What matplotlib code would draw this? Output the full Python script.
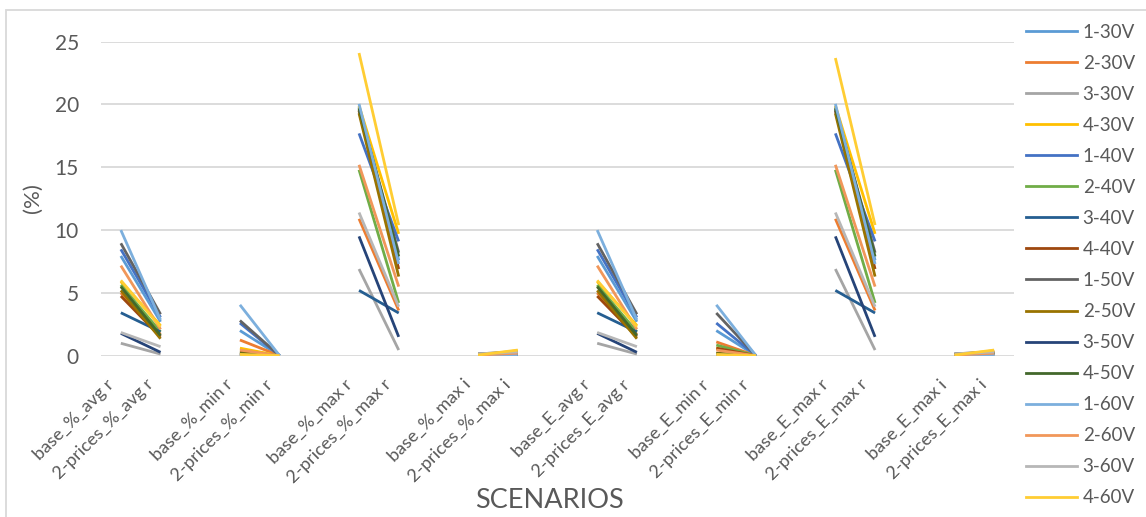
import numpy as np
import matplotlib
matplotlib.use("Agg")
import matplotlib.pyplot as plt
from matplotlib.lines import Line2D
from matplotlib.patches import Rectangle
from matplotlib.transforms import ScaledTranslation

# Scenario names (pairs: base vs 2-prices)
scenarios = [
    "base_%_avg r", "2-prices_%_avg r",
    "base_%_min r", "2-prices_%_min r",
    "base_%_max r", "2-prices_%_max r",
    "base_%_max i", "2-prices_%_max i",
    "base_E_avg r", "2-prices_E_avg r",
    "base_E_min r", "2-prices_E_min r",
    "base_E_max r", "2-prices_E_max r",
    "base_E_max i", "2-prices_E_max i",
]

series_names = ["1-30V", "2-30V", "3-30V", "4-30V",
                "1-40V", "2-40V", "3-40V", "4-40V",
                "1-50V", "2-50V", "3-50V", "4-50V",
                "1-60V", "2-60V", "3-60V", "4-60V"]

# values in scenario order (%)
v_1_30 = [7.94, 2.70, 2.00, 0.0, 19.8, 7.6, 0.10, 0.20, 7.94, 2.70, 2.00, 0.0, 19.8, 7.6, 0.10, 0.20]
v_2_30 = [5.00, 1.70, 1.25, 0.0, 10.9, 3.6, 0.10, 0.25, 5.00, 1.70, 1.10, 0.0, 10.9, 3.6, 0.10, 0.25]
v_3_30 = [0.99, 0.13, 0.05, 0.0, 6.9, 0.45, 0.15, 0.25, 0.99, 0.13, 0.05, 0.0, 6.9, 0.45, 0.15, 0.25]
v_4_30 = [5.90, 2.40, 0.60, 0.0, 19.9, 9.7, 0.05, 0.40, 5.90, 2.40, 0.60, 0.0, 19.9, 9.7, 0.05, 0.40]
v_1_40 = [8.47, 3.05, 2.60, 0.0, 17.7, 9.1, 0.05, 0.10, 8.47, 3.05, 2.60, 0.0, 17.7, 9.1, 0.05, 0.10]
v_2_40 = [5.63, 1.90, 0.35, 0.0, 14.8, 4.2, 0.05, 0.15, 5.63, 1.90, 0.85, 0.0, 14.8, 4.2, 0.05, 0.15]
v_3_40 = [3.42, 1.90, 0.15, 0.0, 5.2, 3.4, 0.05, 0.15, 3.42, 1.90, 0.15, 0.0, 5.2, 3.4, 0.05, 0.15]
v_4_40 = [4.75, 1.50, 0.25, 0.0, 19.5, 6.9, 0.10, 0.30, 4.75, 1.50, 0.60, 0.0, 19.5, 6.9, 0.10, 0.30]
v_1_50 = [8.95, 3.30, 2.80, 0.0, 19.6, 8.2, 0.15, 0.30, 8.95, 3.30, 3.40, 0.0, 19.6, 8.2, 0.15, 0.30]
v_2_50 = [5.20, 1.35, 0.20, 0.0, 19.3, 6.3, 0.10, 0.30, 5.20, 1.35, 0.20, 0.0, 19.3, 6.3, 0.10, 0.30]
v_3_50 = [1.78, 0.27, 0.05, 0.0, 9.5, 1.5, 0.05, 0.10, 1.78, 0.27, 0.05, 0.0, 9.5, 1.5, 0.05, 0.10]
v_4_50 = [5.50, 1.60, 0.15, 0.0, 19.7, 7.9, 0.05, 0.20, 5.50, 1.60, 0.15, 0.0, 19.7, 7.9, 0.05, 0.20]
v_1_60 = [10.0, 2.85, 4.05, 0.0, 20.05, 7.3, 0.02, 0.05, 10.0, 2.85, 4.05, 0.0, 20.05, 7.3, 0.02, 0.05]
v_2_60 = [7.17, 2.10, 0.45, 0.0, 15.2, 5.5, 0.05, 0.20, 7.17, 2.10, 0.45, 0.0, 15.2, 5.5, 0.05, 0.20]
v_3_60 = [1.85, 0.72, 0.05, 0.0, 11.4, 3.9, 0.15, 0.30, 1.85, 0.72, 0.05, 0.0, 11.4, 3.9, 0.15, 0.30]
v_4_60 = [6.00, 2.30, 0.10, 0.0, 24.1, 10.4, 0.05, 0.45, 6.00, 2.30, 0.10, 0.0, 23.7, 10.4, 0.05, 0.45]

all_values = [v_1_30, v_2_30, v_3_30, v_4_30, v_1_40, v_2_40, v_3_40, v_4_40,
              v_1_50, v_2_50, v_3_50, v_4_50, v_1_60, v_2_60, v_3_60, v_4_60]

colors = ["#5B9BD5", "#ED7D31", "#A5A5A5", "#FFC000",
          "#4472C4", "#70AD47", "#255E91", "#9E480E",
          "#636363", "#997300", "#264478", "#43682B",
          "#7CAFDD", "#F1975A", "#B7B7B7", "#FFCD33"]

TXT = "#595959"
GRID = "#D9D9D9"
plt.rcParams["font.family"] = ["Lato", "DejaVu Sans"]

fig = plt.figure(figsize=(11.46, 5.17), dpi=100)
W, H = 1146, 517
ax = fig.add_axes([101 / W, (H - 355.7) / H, (1014 - 101) / W, (355.7 - 41.7) / H])

# category axis: each pair followed by an empty slot
n_pairs = len(scenarios) // 2
labels = []
for p in range(n_pairs):
    labels += [scenarios[2 * p], scenarios[2 * p + 1]]
    if p < n_pairs - 1:
        labels.append("")
n_slots = len(labels)

handles = []
for vals, col, name in zip(all_values, colors, series_names):
    for p in range(n_pairs):
        x0 = 3 * p
        ax.plot([x0, x0 + 1], [vals[2 * p], vals[2 * p + 1]], color=col,
                lw=2.0, solid_capstyle="butt", zorder=3)
    handles.append(Line2D([], [], color=col, lw=2.0, label=name))

ax.set_xlim(-0.5, n_slots - 0.5)
ax.set_ylim(0, 25)
ax.set_yticks([0, 5, 10, 15, 20, 25])
ax.yaxis.grid(True, color=GRID, lw=1.3)
ax.set_axisbelow(True)
for s in ax.spines.values():
    s.set_visible(False)
ax.tick_params(axis="both", length=0, colors=TXT)
ax.tick_params(axis="y", pad=16, labelsize=15)
ax.set_xticks(range(n_slots))
ax.set_xticklabels(labels, rotation=45, ha="right", va="center",
                   rotation_mode="anchor", fontsize=13, color=TXT)
ax.tick_params(axis="x", pad=19)
shift = ScaledTranslation(-7 / 72, 0, fig.dpi_scale_trans)
for lab in ax.get_xticklabels():
    lab.set_transform(lab.get_transform() + shift)

fig.text(33 / W, 1 - 198 / H, "(%)", rotation=90, ha="center", va="center",
         fontsize=16, color=TXT)
fig.text(549 / W, 1 - 501 / H, "SCENARIOS", ha="center", va="center",
         fontsize=19.5, color=TXT)

leg = fig.legend(handles=handles, loc="upper left",
                 bbox_to_anchor=(1018 / W, 1 - 16 / H), frameon=False,
                 fontsize=13.5, handlelength=2.75, handletextpad=0.3,
                 labelspacing=0.75, borderaxespad=0)
for t in leg.get_texts():
    t.set_color(TXT)

# chart border
fig.patches.append(Rectangle((6 / W, -0.1), 1.2, 1 - 10 / H + 0.1,
                             transform=fig.transFigure, fill=False,
                             edgecolor=GRID, lw=1.3))

fig.savefig("out.png", dpi=100, facecolor="white")
